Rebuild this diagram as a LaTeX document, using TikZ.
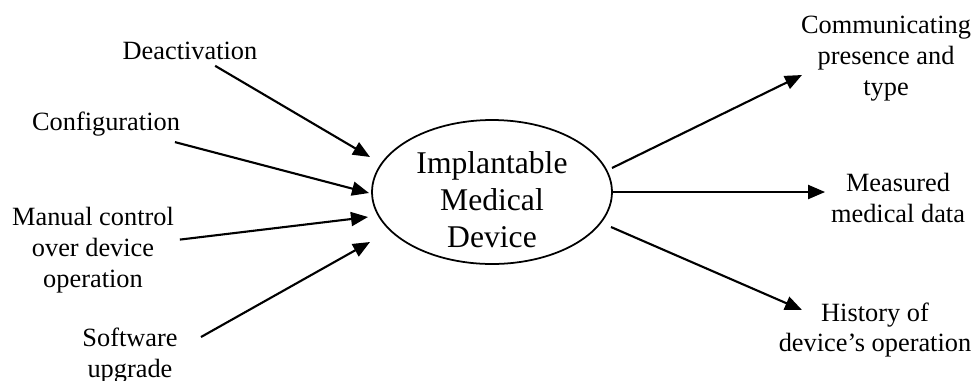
\documentclass[tikz,border=0pt]{standalone}
\usepackage{fontspec}
\setmainfont{Liberation Serif}
\usetikzlibrary{shapes.geometric,arrows.meta,positioning}

\begin{document}
\begin{tikzpicture}[x=0.02cm, y=-0.02cm, thick,
    device/.style = {draw, ellipse, line width=1pt, minimum width=4.8cm, minimum height=2.88cm, inner sep=0pt},
    devtext/.style = {align=center, font=\fontsize{18pt}{21pt}\selectfont, inner sep=0pt},
    item/.style = {align=center, font=\fontsize{15pt}{17.6pt}\selectfont, inner sep=3pt},
    flow/.style = {line width=1.2pt, -{Triangle[length=0.34cm, width=0.28cm]}}]
    \useasboundingbox (0,0) rectangle (977,380);

    % Il dispositivo al centro
    \node[device] (imd) at (492,192) {};
    \node[devtext] (imdt) at (492,200) {Implantable\\Medical\\Device};

    % Ingressi a sinistra
    \node[item] (dea) at (190,51) {Deactivation};
    \node[item] (con) at (106,124) {Configuration};
    \node[item] (man) at (93,250) {Manual control\\over device\\operation};
    \node[item] (sw) at (130,356) {Software\\upgrade};

    % Uscite a destra
    \node[item] (com) at (886,59) {Communicating\\presence and\\type};
    \node[item] (mea) at (898,198) {Measured\\medical data};
    \node[item] (his) at (875,330) {History of\\device’s operation};

    % Estremi delle frecce
    \coordinate (deaIn) at (370,157);
    \coordinate (conIn) at (369,193);
    \coordinate (manIn) at (368,217);
    \coordinate (swIn) at (370,242);
    \coordinate (swOut) at (201,337);
    \coordinate (comOut) at (612,168);
    \coordinate (comIn) at (802,75);
    \coordinate (hisOut) at (611,227);
    \coordinate (hisIn) at (802,310);

    % Disegna le frecce
    \draw[flow] (dea) to (deaIn);
    \draw[flow] (con) to (conIn);
    \draw[flow] (man) to (manIn);
    \draw[flow] (swOut) to (swIn);
    \draw[flow] (comOut) to (comIn);
    \draw[flow] (imd.east) to (imd.east -| mea.west);
    \draw[flow] (hisOut) to (hisIn);

\end{tikzpicture}
\end{document}
